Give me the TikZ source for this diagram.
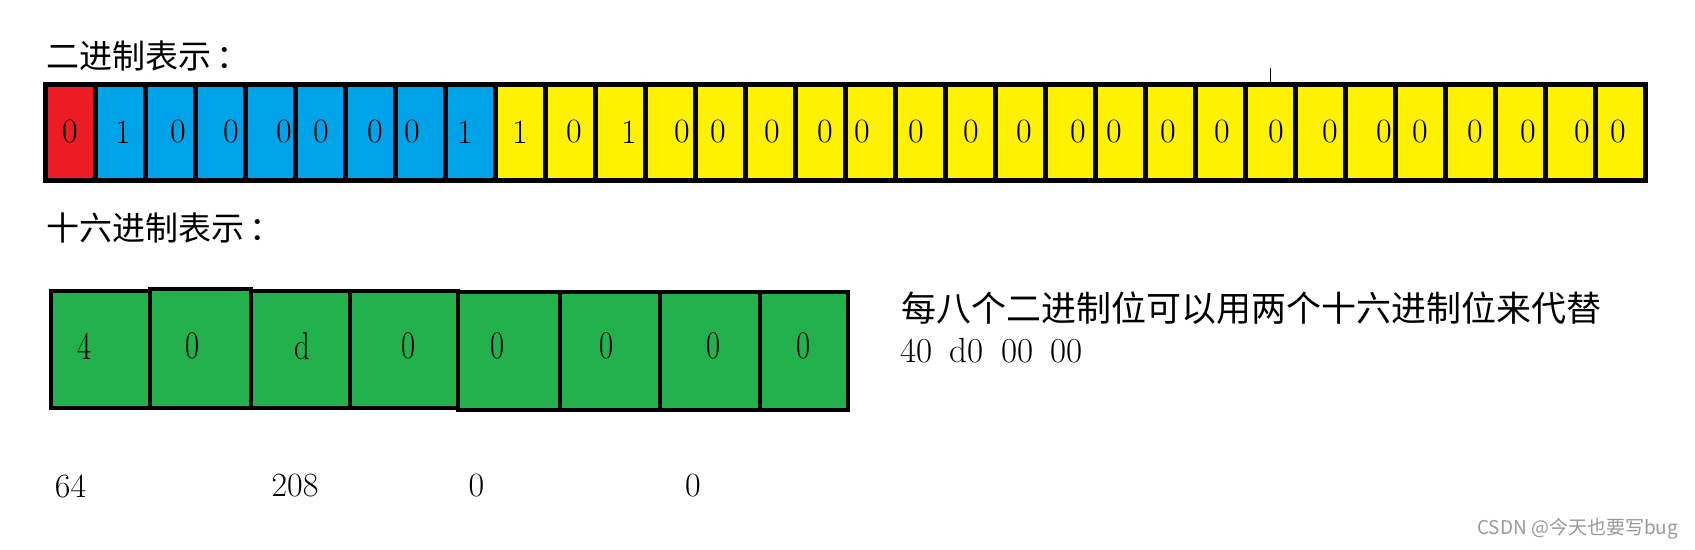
\documentclass[tikz,border=0pt]{standalone}
\usepackage{fontspec}
\usepackage{graphicx}
\newfontfamily\cjk{Noto Sans CJK SC}
\definecolor{bitred}{HTML}{ED1C24}
\definecolor{bitblue}{HTML}{00A2E8}
\definecolor{bityellow}{HTML}{FFF200}
\definecolor{hexgreen}{HTML}{22B14C}
\newcommand{\hexdig}[1]{\scalebox{0.9}[1.15]{#1}}

\begin{document}
\begin{tikzpicture}[
    x=1pt, y=-1pt,
    bitcell/.style={rectangle, draw=black, line width=5pt, minimum width=50pt, minimum height=96pt, inner sep=0pt},
    hexcell/.style={rectangle, draw=black, line width=4.5pt, fill=hexgreen, inner sep=0pt},
    bitdigit/.style={inner sep=0pt, font=\fontsize{34}{40}\selectfont},
    heading/.style={anchor=west, inner sep=0pt, font=\cjk\fontsize{33}{40}\selectfont},
    note/.style={anchor=west, inner sep=0pt, font=\cjk\fontsize{35}{42}\selectfont},
    numtext/.style={anchor=west, inner sep=0pt, font=\fontsize{35}{42}\selectfont}
]
    \useasboundingbox (0,0) rectangle (1695,549);

    % binary row
    \node[heading] (binlabel) at (46,56) {二进制表示\,：};
    \foreach \i in {0,...,31} {
        \ifnum\i=0 \def\cellcol{bitred}\else\ifnum\i<9 \def\cellcol{bitblue}\else\def\cellcol{bityellow}\fi\fi
        \node[bitcell, fill=\cellcol] (b\i) at ({70.5+50*\i},132.5) {};
    }
    \foreach \x/\d [count=\k] in {70/0,123/1,178/0,231/0,284/0,321/0,375/0,412/0,465/1,520/1,
        574/0,629/1,682/0,718/0,772/0,825/0,862/0,916/0,971/0,1024/0,1078/0,1114/0,
        1168/0,1222/0,1276/0,1330/0,1384/0,1420/0,1475/0,1528/0,1582/0,1618/0}
        \node[bitdigit] (bd\k) at (\x,132) {\d};
    \draw[line width=1pt] (b24.north) -- ++(0,-14.5);

    % hex row
    \node[heading] (hexlabel) at (46,228) {十六进制表示\,：};
    \foreach \l/\r/\t/\b [count=\k] in {51/150/291/408, 150/251/289/408, 251/350/291/408, 350/458/291/408,
        458/560/292/410, 560/660/292/410, 660/760/292/410, 760/848/292/410} {
        \pgfmathsetmacro\cw{\r-\l}
        \pgfmathsetmacro\ch{\b-\t}
        \node[hexcell, minimum width=\cw pt, minimum height=\ch pt] (h\k) at ({(\l+\r)/2},{(\t+\b)/2}) {};
    }
    \foreach \x/\d [count=\k] in {85/4,193/0,302/d,409/0,498/0,607/0,714/0,804/0}
        \node[bitdigit] (hd\k) at (\x,346) {\hexdig{\d}};

    % explanation
    \node[note] (rule) at (901,308) {每八个二进制位可以用两个十六进制位来代替};
    \node[numtext] (pairs) at (900,351) {40\enspace d0\enspace 00\enspace 00};

    % decimal values
    \node[bitdigit] (v1) at (70.5,486) {64};
    \node[bitdigit] (v2) at (295,486) {208};
    \node[bitdigit] (v3) at (476.5,486) {0};
    \node[bitdigit] (v4) at (693,486) {0};

    \node[anchor=west, inner sep=0pt, text=black!40, font=\cjk\fontsize{19}{22}\selectfont] (wm) at (1477,529) {CSDN @今天也要写bug};
\end{tikzpicture}
\end{document}
